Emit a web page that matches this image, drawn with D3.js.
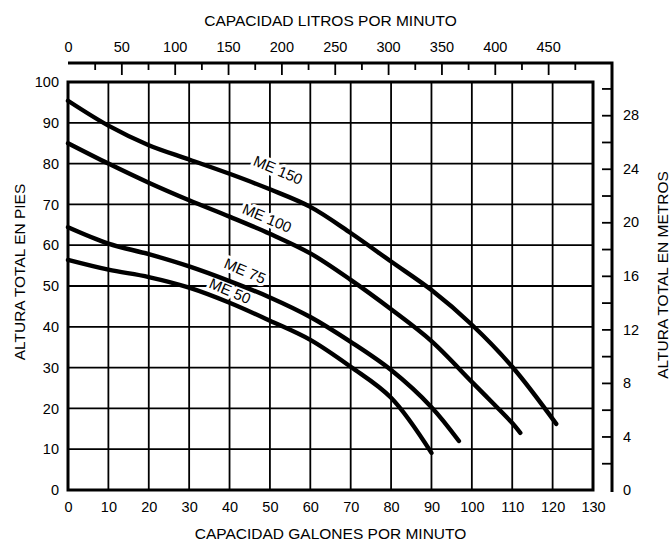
<!DOCTYPE html>
<html>
<head>
<meta charset="utf-8">
<script src="https://cdn.jsdelivr.net/npm/d3@7"></script>
<style>
  body { margin: 0; background: #fff; }
  svg text { font-family: "Liberation Sans", Arial, Helvetica, sans-serif; fill: #000; }
</style>
</head>
<body>
<div id="chartContainer"></div>
<script>
// capacity in gallons per minute, head in feet
var gpm = [0, 10, 20, 30, 40, 50, 60, 70, 80, 90, 100, 110, 120, 130];

var me150 = [[0, 95.4], [10, 89.3], [20, 84.5], [30, 81], [40, 77.5], [50, 73.7], [60, 69.4],
             [70, 63], [80, 56], [90, 49], [100, 40.5], [110, 30.2], [120.9, 16.2]];
var me100 = [[0, 85], [10, 80], [20, 75.3], [30, 71], [40, 67], [50, 62.8], [60, 58],
             [70, 51.5], [80, 44.3], [90, 36.5], [100, 26.5], [105, 21.5], [110, 16.4], [112, 14]];
var me75 = [[0, 64.4], [10, 60.4], [20, 57.8], [30, 54.8], [40, 51.2], [50, 47.2], [60, 42.4],
            [70, 36.3], [80, 29.4], [90, 20.3], [96.8, 12]];
var me50 = [[0, 56.4], [10, 54], [20, 52.2], [30, 49.6], [40, 45.9], [50, 41.5], [60, 36.8],
            [70, 30.2], [80, 22.6], [90, 9.1]];

var curves = [
  {name: "ME 150", pts: me150, lx: 278, ly: 170},
  {name: "ME 100", pts: me100, lx: 267, ly: 218},
  {name: "ME 75",  pts: me75,  lx: 245, ly: 271},
  {name: "ME 50",  pts: me50,  lx: 230, ly: 291}
];

var feetTicks = [0, 10, 20, 30, 40, 50, 60, 70, 80, 90, 100];
var literTicks = d3.range(0, 476, 25);
var literLabels = [0, 50, 100, 150, 200, 250, 300, 350, 400, 450];
var meterTicks = d3.range(0, 31, 2);
var meterLabels = [0, 4, 8, 12, 16, 20, 24, 28];

var LPG = 3.785;   // liters per gallon
var FPM = 3.2808;  // feet per meter

var width = 672, height = 542;
var pLeft = 68, pRight = 593, pTop = 82, pBottom = 490;
var axisX = 612, axisY = 63;
var tickFont = "14.5px", titleFont = "15.5px";

var svg = d3.select("#chartContainer").append("svg")
    .attr("width", width)
    .attr("height", height);

var x = d3.scaleLinear().domain([0, 130]).range([pLeft, pRight]);
var y = d3.scaleLinear().domain([0, 100]).range([pBottom, pTop]);
var xl = d3.scaleLinear().domain([0, 130 * LPG]).range([pLeft, pRight]);
var ym = d3.scaleLinear().domain([0, 100 / FPM]).range([pBottom, pTop]);

// grid
svg.append("g").attr("class", "vgrid")
    .selectAll("line").data(gpm.slice(1, -1))
    .enter().append("line")
    .attr("x1", function(d) { return x(d); }).attr("x2", function(d) { return x(d); })
    .attr("y1", pTop).attr("y2", pBottom)
    .attr("stroke", "#000").attr("stroke-width", 1.8);

svg.append("g").attr("class", "hgrid")
    .selectAll("line").data(feetTicks.slice(1, -1))
    .enter().append("line")
    .attr("x1", pLeft).attr("x2", pRight)
    .attr("y1", function(d) { return y(d); }).attr("y2", function(d) { return y(d); })
    .attr("stroke", "#000").attr("stroke-width", 1.8);

// frame
svg.append("rect")
    .attr("x", pLeft).attr("y", pTop)
    .attr("width", pRight - pLeft).attr("height", pBottom - pTop)
    .attr("fill", "none").attr("stroke", "#000").attr("stroke-width", 3);

// bottom axis (gallons)
var xAxis = svg.append("g")
    .attr("transform", "translate(0," + pBottom + ")")
    .call(d3.axisBottom(x).tickValues(gpm).tickSize(0).tickPadding(12));
xAxis.select(".domain").remove();

// left axis (feet)
var yAxis = svg.append("g")
    .attr("transform", "translate(" + pLeft + ",0)")
    .call(d3.axisLeft(y).tickValues(feetTicks).tickSize(0).tickPadding(9));
yAxis.select(".domain").remove();

// top axis (liters)
var topAxis = svg.append("g")
    .attr("transform", "translate(0," + axisY + ")")
    .call(d3.axisTop(xl).tickValues(literTicks).tickSizeInner(-7).tickSizeOuter(0).tickPadding(11)
        .tickFormat(function(d) { return literLabels.indexOf(d) >= 0 ? d : ""; }));
topAxis.select(".domain").remove();
topAxis.selectAll(".tick line")
    .attr("y2", function(d) { return literLabels.indexOf(d) >= 0 ? 12 : 7; })
    .attr("stroke-width", 1.8)
    .style("display", function(d) { return d === 0 ? "none" : null; });

// right axis (meters)
var rAxis = svg.append("g")
    .attr("transform", "translate(" + axisX + ",0)")
    .call(d3.axisRight(ym).tickValues(meterTicks).tickSizeInner(-10).tickSizeOuter(0).tickPadding(11)
        .tickFormat(function(d) { return meterLabels.indexOf(d) >= 0 ? d : ""; }));
rAxis.select(".domain").remove();
rAxis.selectAll(".tick line")
    .attr("stroke-width", 1.8)
    .style("display", function(d) { return d === 0 ? "none" : null; });

svg.selectAll(".tick text").style("font-size", tickFont)
    .style("font-family", "'Liberation Sans', Arial, sans-serif");

// top and right axis lines
svg.append("path")
    .attr("d", "M" + pLeft + "," + axisY + "H" + axisX + "V" + (pBottom + 2))
    .attr("fill", "none").attr("stroke", "#000").attr("stroke-width", 3);

// curve labels with white knockout
var labels = svg.append("g").selectAll("g").data(curves).enter().append("g")
    .attr("transform", function(d) { return "translate(" + d.lx + "," + d.ly + ") rotate(23)"; });
labels.append("text")
    .attr("text-anchor", "middle").attr("dy", "0.35em")
    .style("font-size", "15px")
    .attr("stroke", "#fff").attr("stroke-width", 6).attr("stroke-linejoin", "round")
    .style("fill", "#fff")
    .text(function(d) { return d.name; });
labels.append("text")
    .attr("text-anchor", "middle").attr("dy", "0.35em")
    .style("font-size", "15px")
    .text(function(d) { return d.name; });

// pump curves
var line = d3.line()
    .x(function(d) { return x(d[0]); })
    .y(function(d) { return y(d[1]); })
    .curve(d3.curveCatmullRom.alpha(0.5));

svg.append("g").selectAll("path").data(curves).enter().append("path")
    .attr("d", function(d) { return line(d.pts); })
    .attr("fill", "none").attr("stroke", "#000")
    .attr("stroke-width", 4.4).attr("stroke-linecap", "round");

// titles
svg.append("text")
    .attr("x", (pLeft + pRight) / 2).attr("y", 26)
    .attr("text-anchor", "middle").style("font-size", titleFont)
    .text("CAPACIDAD LITROS POR MINUTO");
svg.append("text")
    .attr("x", (pLeft + pRight) / 2).attr("y", 539)
    .attr("text-anchor", "middle").style("font-size", titleFont)
    .text("CAPACIDAD GALONES POR MINUTO");
svg.append("text")
    .attr("transform", "translate(25,272) rotate(-90)")
    .attr("text-anchor", "middle").style("font-size", titleFont)
    .text("ALTURA TOTAL EN PIES");
svg.append("text")
    .attr("transform", "translate(668,275) rotate(-90)")
    .attr("text-anchor", "middle").style("font-size", titleFont)
    .text("ALTURA TOTAL EN METROS");
</script>
</body>
</html>
